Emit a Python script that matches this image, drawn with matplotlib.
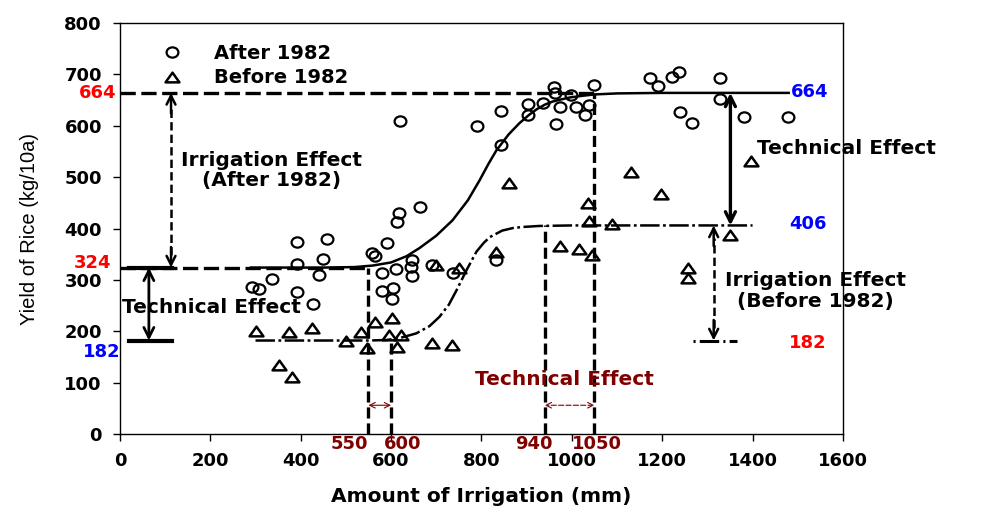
import numpy as np
import matplotlib
matplotlib.use("Agg")
import matplotlib.pyplot as plt
from matplotlib.path import Path

plt.rcParams['font.family'] = ['DejaVu Sans']
plt.rcParams['lines.scale_dashes'] = False

# scatter data
after_x = [292, 308, 337, 392, 392, 392, 428, 441, 450, 459, 558, 565, 592, 581, 612, 647, 645,
           647, 581, 605, 603, 691, 738, 833, 614, 618, 620, 663, 791, 844, 844, 902, 902, 937,
           960, 962, 973, 999, 1010, 1030, 1037, 966, 1050, 1172, 1190, 1221, 1237, 1239, 1265,
           1327, 1327, 1381, 1478]
after_y = [286, 282, 302, 374, 331, 276, 253, 309, 341, 379, 352, 346, 372, 313, 321, 339, 325,
           307, 278, 284, 263, 329, 313, 339, 413, 430, 609, 442, 599, 628, 562, 642, 621, 644,
           675, 663, 636, 660, 636, 621, 640, 603, 679, 693, 677, 695, 704, 627, 605,
           693, 653, 617, 617]
before_x = [301, 375, 426, 352, 381, 501, 534, 565, 603, 596, 623, 614, 547, 691, 734, 700,
            751, 833, 860, 973, 1017, 1044, 1035, 1039, 1088, 1130, 1197, 1257, 1257, 1396, 1350]
before_y = [200, 198, 206, 134, 111, 181, 198, 218, 226, 193, 193, 169, 167, 177, 173, 329,
            323, 354, 488, 366, 360, 348, 449, 414, 409, 510, 467, 323, 304, 531, 387]

# fitted curves
after_curve_x = [290, 450, 520, 560, 600, 634, 663, 700, 736, 770, 796, 815, 833, 860, 884, 905,
                 922, 940, 957, 975, 995, 1020, 1050, 1100, 1200, 1480]
after_curve_y = [324, 324, 325, 328, 334, 346, 362, 386, 416, 455, 494, 525, 552, 583, 605, 621,
                 632, 641, 647, 651, 655, 658, 661, 663, 664, 664]
before_curve_x = [300, 550, 590, 620, 656, 685, 707, 728, 745, 767, 789, 805, 818, 846, 870, 891,
                  928, 1000, 1400]
before_curve_y = [182, 182, 183, 187, 196, 210, 228, 252, 280, 319, 355, 372, 383, 396, 401, 403,
                  405, 406, 406]

levels_after = [324, 664]
levels_before = [182, 406]
thresholds = [550, 600, 940, 1050]

red = '#FF0000'
blue = '#0000FF'
dred = '#800000'

fig = plt.figure(figsize=(10.03, 5.14), dpi=100)
ax = fig.add_axes([0.1196, 0.1556, 0.7208, 0.7996])

# flattened markers like the original
circ = Path.unit_circle()
circ_marker = Path(circ.vertices * np.array([1.15, 1.0]), circ.codes)
tri_marker = Path([(0, 0.7), (-1, -0.7), (1, -0.7), (0, 0.7)],
                  [Path.MOVETO, Path.LINETO, Path.LINETO, Path.CLOSEPOLY])

dash = (0, (11, 4))
vdash = (0, (8, 3.5))
dashdot = (0, (14, 2.5, 2, 2.5))

# reference lines
ax.plot([0, thresholds[3]], [levels_after[1]] * 2, color='k', lw=2.4, linestyle=dash)
ax.plot([0, thresholds[0]], [levels_after[0]] * 2, color='k', lw=2.4, linestyle=dash)
ax.plot([thresholds[0]] * 2, [0, levels_after[0]], color='k', lw=2.4, linestyle=vdash)
ax.plot([thresholds[1]] * 2, [0, levels_before[0]], color='k', lw=2.4, linestyle=vdash)
ax.plot([thresholds[2]] * 2, [0, levels_before[1]], color='k', lw=2.4, linestyle=vdash)
ax.plot([thresholds[3]] * 2, [0, levels_after[1]], color='k', lw=2.4, linestyle=vdash)

# curves
ax.plot(after_curve_x, after_curve_y, color='k', lw=1.8)
ax.plot(before_curve_x, before_curve_y, color='k', lw=1.8, linestyle=dashdot)
ax.plot([1268, 1365], [levels_before[0]] * 2, color='k', lw=2.2, linestyle=(0, (1.5, 3, 14, 3)))

# points
ax.plot(after_x, after_y, linestyle='none', marker=circ_marker, markersize=8.5,
        markerfacecolor='none', markeredgecolor='k', markeredgewidth=1.6, label='After 1982')
ax.plot(before_x, before_y, linestyle='none', marker=tri_marker, markersize=10,
        markerfacecolor='none', markeredgecolor='k', markeredgewidth=1.8, label='Before 1982')

# left: technical effect (solid) and irrigation effect (dashed)
ax.plot([20, 115], [levels_after[0]] * 2, color='k', lw=3)
ax.plot([20, 115], [levels_before[0]] * 2, color='k', lw=3)
ax.annotate('', xy=(64, levels_after[0]), xytext=(64, levels_before[0]),
            arrowprops=dict(arrowstyle='<->', lw=2, color='k', shrinkA=0, shrinkB=0,
                            mutation_scale=18))
ax.plot([113, 113], [levels_after[0] + 25, levels_after[1] - 25], color='k', lw=1.8,
        linestyle=(0, (6, 3)))
for y0, y1 in [(levels_after[1] - 40, levels_after[1]), (levels_after[0] + 40, levels_after[0])]:
    ax.annotate('', xy=(113, y1), xytext=(113, y0),
                arrowprops=dict(arrowstyle='->', lw=1.8, color='k', shrinkA=0, shrinkB=0,
                                mutation_scale=16))

# right: technical effect (solid) and irrigation effect (dashed)
ax.annotate('', xy=(1351, levels_after[1]), xytext=(1351, levels_before[1]),
            arrowprops=dict(arrowstyle='<->', lw=2.4, color='k', shrinkA=0, shrinkB=0,
                            mutation_scale=18))
ax.plot([1314, 1314], [levels_before[0] + 25, levels_before[1] - 25], color='k', lw=1.8,
        linestyle=(0, (6, 3)))
for y0, y1 in [(levels_before[1] - 40, levels_before[1]), (levels_before[0] + 40, levels_before[0])]:
    ax.annotate('', xy=(1314, y1), xytext=(1314, y0),
                arrowprops=dict(arrowstyle='->', lw=1.8, color='k', shrinkA=0, shrinkB=0,
                                mutation_scale=16))

# red arrows along the bottom
ax.annotate('', xy=(thresholds[0], 56), xytext=(thresholds[1], 56),
            arrowprops=dict(arrowstyle='<->', lw=0.8, color=dred, shrinkA=0, shrinkB=0,
                            mutation_scale=10))
ax.annotate('', xy=(thresholds[2], 56), xytext=(thresholds[3], 56),
            arrowprops=dict(arrowstyle='<->', lw=0.8, color=dred, shrinkA=0, shrinkB=0,
                            mutation_scale=10, linestyle='--'))

# texts
big = dict(fontweight='bold', fontsize=14.5)
num = dict(fontweight='bold', fontsize=13)
ax.text(335, 513, 'Irrigation Effect\n(After 1982)', ha='center', va='center',
        linespacing=1.1, **big)
ax.text(202, 247, 'Technical Effect', ha='center', va='center', **big)
ax.text(1410, 556, 'Technical Effect', ha='left', va='center', clip_on=False, **big)
ax.text(1540, 278, 'Irrigation Effect\n(Before 1982)', ha='center', va='center',
        linespacing=1.1, clip_on=False, **big)
ax.text(984, 107, 'Technical Effect', ha='center', va='center', color=dred, **big)

ax.text(-9, 664, '664', ha='right', va='center', color=red, clip_on=False, **num)
ax.text(-20, 333, '324', ha='right', va='center', color=red, clip_on=False, **num)
ax.text(1, 160, '182', ha='right', va='center', color=blue, clip_on=False, **num)
ax.text(1485, 666, '664', ha='left', va='center', color=blue, clip_on=False, **num)
ax.text(1480, 408, '406', ha='left', va='center', color=blue, clip_on=False, **num)
ax.text(1480, 177, '182', ha='left', va='center', color=red, clip_on=False, **num)

ax.text(thresholds[0], -19, '550', ha='right', va='center', color=dred, clip_on=False, **num)
ax.text(585, -19, '600', ha='left', va='center', color=dred, clip_on=False, **num)
ax.text(917, -19, '940', ha='center', va='center', color=dred, clip_on=False, **num)
ax.text(1055, -19, '1050', ha='center', va='center', color=dred, clip_on=False, **num)

# axes
ax.set_xlim(0, 1600)
ax.set_ylim(0, 800)
ax.set_xticks(range(0, 1601, 200))
ax.set_yticks(range(0, 801, 100))
ax.tick_params(direction='out', length=5, width=1, pad=8, labelsize=13)
for lab in ax.get_xticklabels() + ax.get_yticklabels():
    lab.set_fontweight('bold')
for sp in ax.spines.values():
    sp.set_linewidth(1)
ax.set_xlabel('Amount of Irrigation (mm)', fontsize=14.5, fontweight='bold', labelpad=12)
ax.set_ylabel('Yield of Rice (kg/10a)', fontsize=14.5, family='Liberation Sans', labelpad=18)

ax.legend(loc='upper left', bbox_to_anchor=(0.0585, 0.95), frameon=False, borderaxespad=0,
          borderpad=0, handlelength=1.0, handletextpad=1.66, labelspacing=0.3,
          prop=dict(weight='bold', size=14))

fig.savefig('out.png', dpi=100)
